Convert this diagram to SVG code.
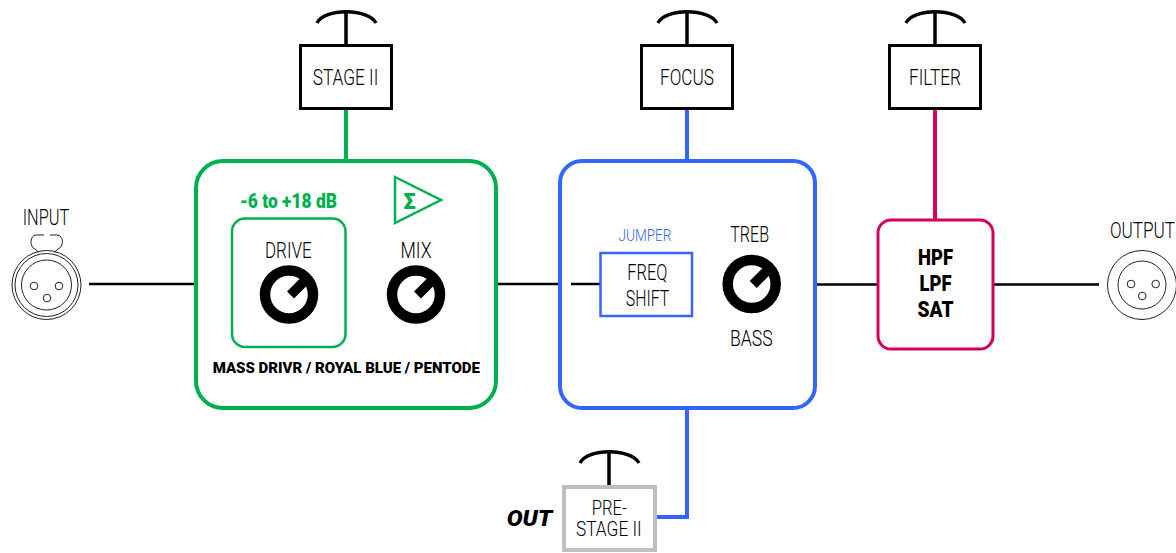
<svg xmlns="http://www.w3.org/2000/svg" width="1176" height="553" viewBox="0 0 1176 553">
<style>
text{font-family:Roboto,"Liberation Sans",sans-serif;fill:#000;text-anchor:middle;font-size:22px;font-weight:300}
.b{font-weight:900;fill:#000}
.w{fill:#fff;stroke:#000;stroke-width:3}
.ant{fill:none;stroke:#000;stroke-width:3.500}
.knobr{fill:none;stroke:#000;stroke-width:10.500}
.thin{fill:none;stroke:#222;stroke-width:1}
.conn{fill:none;stroke-width:2.500;stroke:#000}
.thick{fill:none;stroke-width:4}
</style>
<defs>
<g id="knob"><circle cx="0" cy="0" r="24" class="knobr"/><path d="M-2 -3L5 4L18 -9L11 -16Z" fill="#000"/></g>
<g id="antenna"><path d="M-29 12C-22 -3 22 -3 30 12" class="ant"/><path d="M0 2V34" class="ant"/></g>
</defs>
<rect width="1176" height="553" fill="#fff"/>
<g id="connectors">
<path d="M89 284H194M497 284H559M815 284.500H878M993 284.500H1099" class="conn"/>
<path d="M346 110V160" class="thick" stroke="#00b050"/>
<path d="M687 109V160M687 408V517H656" class="thick" stroke="#3366ff"/>
<path d="M935 109V220" class="thick" stroke="#d6005c"/>
</g>
<g id="input">
<text x="46" y="225" textLength="46.500" lengthAdjust="spacingAndGlyphs">INPUT</text>
<path d="M44 235H36C30 235 29 247 35 249L39 252.500M50 235H57C64 235 64 247 58 249L54 252.500" class="thin"/>
<circle cx="46.500" cy="285" r="34.500" class="thin"/><circle cx="46.500" cy="285" r="31.500" class="thin"/><circle cx="46.500" cy="285" r="25" class="thin"/>
<circle cx="34" cy="286" r="3.800" class="thin"/><circle cx="59" cy="286" r="3.800" class="thin"/><circle cx="47" cy="298" r="3.800" class="thin"/>
</g>
<g id="stage2">
<use href="#antenna" x="346" y="11"/>
<rect x="300.500" y="45.500" width="91" height="63" class="w"/>
<text x="345.500" y="85" textLength="65.600" lengthAdjust="spacingAndGlyphs">STAGE II</text>
</g>
<g id="focus">
<use href="#antenna" x="687" y="11"/>
<rect x="641.500" y="45.500" width="91" height="63" class="w"/>
<text x="687" y="85" textLength="54" lengthAdjust="spacingAndGlyphs">FOCUS</text>
</g>
<g id="filter">
<use href="#antenna" x="935" y="11"/>
<rect x="889.500" y="45.500" width="91" height="63" class="w"/>
<text x="935" y="85" textLength="52" lengthAdjust="spacingAndGlyphs">FILTER</text>
</g>
<g id="green-block">
<rect x="196" y="161" width="300" height="247" rx="27" fill="#fff" stroke="#00b050" stroke-width="4"/>
<text x="288.500" y="208" class="b" textLength="97" lengthAdjust="spacingAndGlyphs" style="fill:#00b050;font-size:20px">-6 to +18 dB</text>
<rect x="232" y="218.500" width="113.500" height="128.500" rx="13" fill="none" stroke="#00b050" stroke-width="2.500"/>
<path d="M395 177L441 200L395 223Z" fill="none" stroke="#00b050" stroke-width="2.500"/>
<text x="409.500" y="209" class="b" style="fill:#00b050;font-size:22px">Σ</text>
<text x="288.300" y="258.300" textLength="46.700" lengthAdjust="spacingAndGlyphs">DRIVE</text>
<text x="416" y="258.300" textLength="31" lengthAdjust="spacingAndGlyphs">MIX</text>
<use href="#knob" x="289" y="294.500"/>
<use href="#knob" x="416" y="294.500"/>
<text x="346.300" y="373.300" class="b" style="font-size:15.500px" textLength="267.300" lengthAdjust="spacingAndGlyphs">MASS DRIVR / ROYAL BLUE / PENTODE</text>
</g>
<g id="blue-block">
<rect x="560" y="161" width="255" height="247" rx="22" fill="#fff" stroke="#3366ff" stroke-width="4"/>
<path d="M571 284H600" class="conn"/>
<text x="645" y="241" textLength="53" lengthAdjust="spacingAndGlyphs" style="fill:#3366ff;font-size:17px">JUMPER</text>
<rect x="600.500" y="253" width="91.500" height="63" fill="#fff" stroke="#3366ff" stroke-width="2.500"/>
<text x="647.300" y="279.500" textLength="40" lengthAdjust="spacingAndGlyphs">FREQ</text>
<text x="647.500" y="305.500" textLength="43.600" lengthAdjust="spacingAndGlyphs">SHIFT</text>
<text x="749.700" y="241.500" textLength="39" lengthAdjust="spacingAndGlyphs">TREB</text>
<use href="#knob" x="751.700" y="284"/>
<text x="751.300" y="345.700" textLength="42.700" lengthAdjust="spacingAndGlyphs">BASS</text>
</g>
<g id="pink-block">
<rect x="878" y="220" width="115" height="129" rx="13" fill="#fff" stroke="#d6005c" stroke-width="3"/>
<text x="935.500" y="265" class="b" textLength="35" lengthAdjust="spacingAndGlyphs">HPF</text>
<text x="935.500" y="291" class="b" textLength="32" lengthAdjust="spacingAndGlyphs">LPF</text>
<text x="935.500" y="317" class="b" textLength="36" lengthAdjust="spacingAndGlyphs">SAT</text>
</g>
<g id="output">
<text transform="translate(1142.500 238) scale(.78 1)" x="0" y="0">OUTPUT</text>
<circle cx="1142" cy="285" r="34.500" class="thin"/><circle cx="1142" cy="285" r="24" class="thin"/>
<circle cx="1131" cy="284" r="3.800" class="thin"/><circle cx="1155.700" cy="284" r="3.800" class="thin"/><circle cx="1142.300" cy="296" r="3.800" class="thin"/>
</g>
<g id="prestage">
<use href="#antenna" x="609" y="451"/>
<rect x="564" y="487" width="91" height="63" fill="#fff" stroke="#bfbfbf" stroke-width="4"/>
<text x="609.200" y="515" textLength="35" lengthAdjust="spacingAndGlyphs" style="font-size:20px">PRE-</text>
<text x="608.800" y="536" textLength="65.700" lengthAdjust="spacingAndGlyphs" style="font-size:20px">STAGE II</text>
<text x="529.500" y="525.700" class="b" font-style="italic" textLength="45.600" lengthAdjust="spacingAndGlyphs">OUT</text>
</g>
</svg>
